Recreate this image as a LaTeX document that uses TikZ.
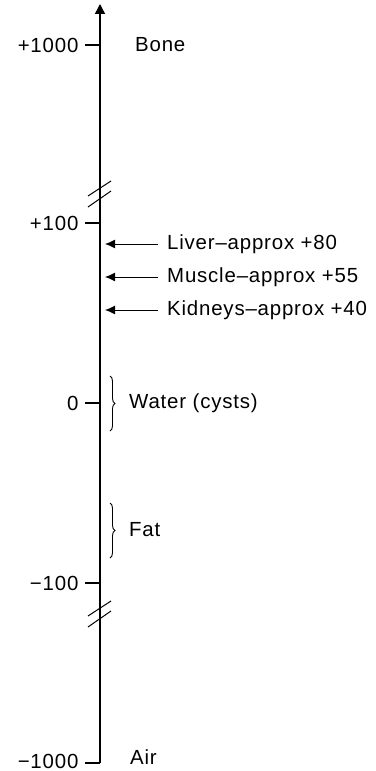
\documentclass[tikz,border=0pt]{standalone}
\usepackage{fontspec}
\setmainfont[LetterSpace=4]{Liberation Sans}
\usetikzlibrary{arrows.meta, decorations.pathreplacing}

\tikzset{
    tick/.style={line width=1.2bp},
    hulabel/.style={anchor=east, inner sep=0pt, font=\fontsize{20.5}{20.5}\selectfont},
    organ/.style={anchor=west, inner sep=0pt, font=\fontsize{20.5}{20.5}\selectfont},
    pointer/.style={-{Latex[length=10bp, width=9bp]}, line width=1bp},
    brk/.style={line width=1bp},
    tissue/.style={decorate, decoration={brace, amplitude=5bp}, line width=0.9bp}
}

\begin{document}
\begin{tikzpicture}[x=1bp, y=-1bp]
    \useasboundingbox (0,0) rectangle (375,771);

    % axis
    \coordinate (bottom) at (100,763);
    \coordinate (top) at (100,4);
    \draw[line width=1.4bp, -{Triangle[length=10bp, width=10bp]}] (bottom) -- (top);

    % breaks
    \draw[brk] (88,196) -- (111,181);
    \draw[brk] (88,207) -- (111,191);
    \draw[brk] (88,616) -- (111,601);
    \draw[brk] (88,627) -- (111,611);

    % ticks and values
    \coordinate (t1000) at (100,45);
    \coordinate (t100) at (100,223);
    \coordinate (t0) at (100,403);
    \coordinate (tm100) at (100,583);
    \draw[tick] (t1000) -- ++(-15,0) node[hulabel, xshift=-6bp] (v1000) {+1000};
    \draw[tick] (t100) -- ++(-15,0) node[hulabel, xshift=-6bp] (v100) {+100};
    \draw[tick] (t0) -- ++(-15,0) node[hulabel, xshift=-6bp] (v0) {0};
    \draw[tick] (tm100) -- ++(-15,0) node[hulabel, xshift=-6bp] (vm100) {−100};
    \draw[tick] (bottom) -- ++(-15,0) node[hulabel, xshift=-6bp, yshift=2bp] (vm1000) {−1000};

    % organs
    \node[organ] (bone) at (135,45) {Bone};
    \node[organ] (air) at (130,757) {Air};
    \node[organ] (liver) at (167,244) {Liver–approx +80};
    \node[organ] (muscle) at (167,277) {Muscle–approx +55};
    \node[organ] (kidneys) at (167,310) {Kidneys–approx +40};
    \coordinate (liverpt) at (105,244);
    \coordinate (musclept) at (105,277);
    \coordinate (kidneyspt) at (105,310);
    \draw[pointer] ([xshift=-9bp]liver.west) -- (liverpt);
    \draw[pointer] ([xshift=-9bp]muscle.west) -- (musclept);
    \draw[pointer] ([xshift=-9bp]kidneys.west) -- (kidneyspt);

    % ranges
    \coordinate (waterhi) at (110,376);
    \coordinate (waterlo) at (110,431);
    \coordinate (fathi) at (110,503);
    \coordinate (fatlo) at (110,558);
    \draw[tissue] (waterhi) -- (waterlo);
    \draw[tissue] (fathi) -- (fatlo);
    \node[organ] (water) at (129,403) {Water (cysts)};
    \node[organ] (fat) at (129,530) {Fat};
\end{tikzpicture}
\end{document}
